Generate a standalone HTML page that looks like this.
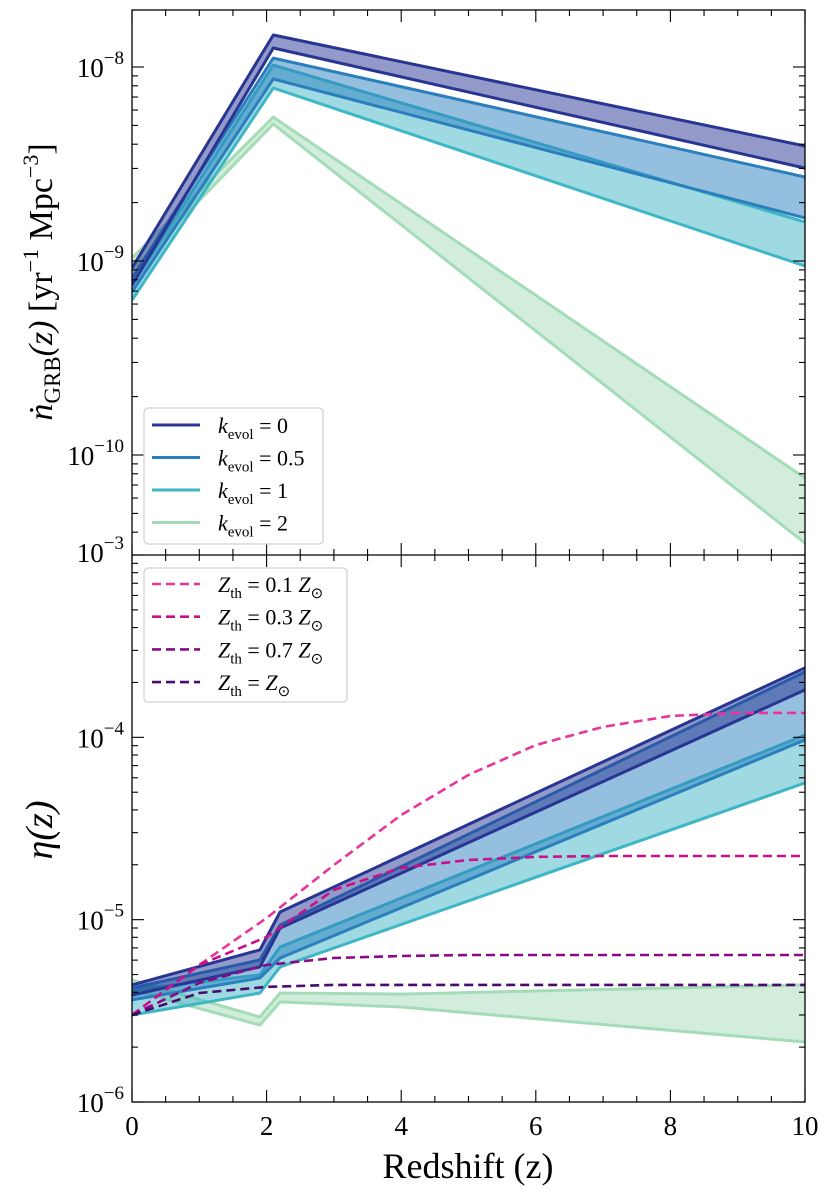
<!DOCTYPE html>
<html><head><meta charset="utf-8"><style>
body{margin:0;background:#fff}
svg{display:block;font-family:"Liberation Serif",serif}
</style></head><body>
<svg id="chart" width="830" height="1200" viewBox="0 0 830 1200" xmlns="http://www.w3.org/2000/svg">
<g id="top"></g>
<g id="bot"></g>
<g id="axes"></g>
<text transform="translate(52,282) rotate(-90)" text-anchor="middle" font-size="34" font-style="italic">ṅ<tspan font-style="normal" font-size="23" dy="8">GRB</tspan><tspan dy="-8">(z)</tspan><tspan font-style="normal"> [yr</tspan><tspan font-style="normal" font-size="22" dy="-14">−1</tspan><tspan font-style="normal" dy="14"> Mpc</tspan><tspan font-style="normal" font-size="22" dy="-14">−3</tspan><tspan font-style="normal" dy="14">]</tspan></text>
<text transform="translate(52,830) rotate(-90)" text-anchor="middle" font-size="38" font-style="italic">η(z)</text>
<text x="468" y="1178" text-anchor="middle" font-size="36">Redshift (z)</text>
<g>
<rect x="144" y="408" width="179" height="136" rx="4" fill="#fff" fill-opacity="0.85" stroke="#d0d0d0" stroke-width="1.2"/>
</g>
<g id="leg1"></g>
<g>
<rect x="144" y="568" width="203" height="134" rx="4" fill="#fff" fill-opacity="0.85" stroke="#d0d0d0" stroke-width="1.2"/>
</g>
<g id="leg2"></g>
</svg>
<script>
// ---- data (log10 values) ----
const zTopBand = [0, 2.1, 10];
const topK0Up = [-9.036, -7.835, -8.407];
const topK0Lo = [-9.124, -7.902, -8.521];
const topK05Up = [-9.088, -7.954, -8.567];
const topK05Lo = [-9.160, -8.062, -8.778];
const topK1Up = [-9.124, -7.990, -8.799];
const topK1Lo = [-9.201, -8.108, -9.026];
const topK2Up = [-8.985, -8.258, -10.119];
const topK2Lo = [-9.046, -8.294, -10.454];

const zBotBand = [0, 1.9, 2.2, 10];
const botK0Up = [-5.358, -5.166, -4.958, -3.619];
const botK0Lo = [-5.413, -5.259, -5.046, -3.740];
const botK05Up = [-5.375, -5.221, -5.029, -3.641];
const botK05Lo = [-5.440, -5.320, -5.210, -4.014];
const botK1Up = [-5.386, -5.303, -5.150, -3.987];
const botK1Lo = [-5.523, -5.402, -5.259, -4.250];
const zBotK2 = [0, 1.9, 2.2, 4, 10];
const botK2Up = [-5.331, -5.534, -5.402, -5.408, -5.358];
const botK2Lo = [-5.386, -5.578, -5.451, -5.479, -5.671];

const zDash = [0, 1, 2, 3, 4, 5, 6, 7, 8, 9, 10];
const zth01 = [-5.523, -5.248, -4.991, -4.700, -4.426, -4.206, -4.042, -3.943, -3.883, -3.866, -3.866];
const zth03 = [-5.523, -5.248, -5.095, -4.837, -4.716, -4.673, -4.656, -4.651, -4.651, -4.651, -4.651];
const zth07 = [-5.523, -5.347, -5.248, -5.210, -5.199, -5.194, -5.194, -5.194, -5.194, -5.194, -5.194];
const zth10 = [-5.523, -5.402, -5.369, -5.358, -5.358, -5.358, -5.358, -5.358, -5.358, -5.358, -5.358];

const xTicks = [0, 2, 4, 6, 8, 10];
const topYTicks = [-8, -9, -10];
const botYTicks = [-4, -5, -6];
const kLabels = ['0', '0.5', '1', '2'];
const zthLabels = ['0.1 ', '0.3 ', '0.7 ', ''];

// ---- scales ----
const X0 = 132, X1 = 805;
const TOP0 = 10, MID = 555, BOT1 = 1102;
const x = z => X0 + (z / 10) * (X1 - X0);
const yTop = l => 67 + (-8 - l) * 194;
const yBot = l => BOT1 - (l + 6) * ((BOT1 - MID) / 3);

const NS = 'http://www.w3.org/2000/svg';
function mk(tag, parent, attrs) { const e = document.createElementNS(NS, tag); for (const k in attrs) e.setAttribute(k, attrs[k]); parent.appendChild(e); return e; }
function pts(zs, ls, ys) { return zs.map((z, i) => x(z).toFixed(1) + ',' + ys(ls[i]).toFixed(1)); }

const colors = ['#283593', '#2b7fbd', '#3fb6c6', '#a5dcb8'];
const dashColors = ['#e7359b', '#c8108a', '#8a0a86', '#4a0a6e'];

function band(g, zs, up, lo, ys, col, name) {
  const d = 'M' + pts(zs, up, ys).join('L') + 'L' + pts(zs, lo, ys).reverse().join('L') + 'Z';
  const f = mk('path', g, { d: d, fill: col, 'fill-opacity': 0.5 });
  
  
  [up, lo].forEach((arr, j) => {
    const l = mk('polyline', g, { points: pts(zs, arr, ys).join(' '), fill: 'none', stroke: col, 'stroke-width': 3, 'stroke-linejoin': 'round' });
    
    
  });
}
const topG = document.getElementById('top'), botG = document.getElementById('bot');
const cpTop = mk('clipPath', topG, { id: 'cpt' }); mk('rect', cpTop, { x: X0, y: TOP0, width: X1 - X0, height: MID - TOP0 });
const cpBot = mk('clipPath', botG, { id: 'cpb' }); mk('rect', cpBot, { x: X0, y: MID, width: X1 - X0, height: BOT1 - MID });
const tg = mk('g', topG, { 'clip-path': 'url(#cpt)' });
const bg = mk('g', botG, { 'clip-path': 'url(#cpb)' });
band(tg, zTopBand, topK2Up, topK2Lo, yTop, colors[3], 'top-band-k2');
band(tg, zTopBand, topK1Up, topK1Lo, yTop, colors[2], 'top-band-k1');
band(tg, zTopBand, topK05Up, topK05Lo, yTop, colors[1], 'top-band-k05');
band(tg, zTopBand, topK0Up, topK0Lo, yTop, colors[0], 'top-band-k0');
band(bg, zBotK2, botK2Up, botK2Lo, yBot, colors[3], 'bottom-band-k2');
band(bg, zBotBand, botK1Up, botK1Lo, yBot, colors[2], 'bottom-band-k1');
band(bg, zBotBand, botK05Up, botK05Lo, yBot, colors[1], 'bottom-band-k05');
band(bg, zBotBand, botK0Up, botK0Lo, yBot, colors[0], 'bottom-band-k0');
[zth01, zth03, zth07, zth10].forEach((arr, i) => {
  const l = mk('polyline', bg, { points: pts(zDash, arr, yBot).join(' '), fill: 'none', stroke: dashColors[i], 'stroke-width': 2.6, 'stroke-dasharray': '9,5' });
  
  
});

// ---- axes ----
const ax = document.getElementById('axes');
mk('rect', ax, { x: X0, y: TOP0, width: X1 - X0, height: BOT1 - TOP0, fill: 'none', stroke: '#000', 'stroke-width': 1.3 });
mk('line', ax, { x1: X0, x2: X1, y1: MID, y2: MID, stroke: '#000', 'stroke-width': 1.3 });
function tk(x1, y1, x2, y2) { mk('line', ax, { x1: x1, y1: y1, x2: x2, y2: y2, stroke: '#000', 'stroke-width': 1.1 }); }
for (let z = 0; z <= 10.001; z += 0.5) {
  const major = Math.abs(z / 2 - Math.round(z / 2)) < 1e-6;
  const L = major ? 12 : 6;
  const px = x(z);
  [TOP0, MID].forEach(yy => tk(px, yy, px, yy + L));
  [MID, BOT1].forEach(yy => tk(px, yy, px, yy - L));
}
function logTicks(lo, hi, ys, yMin, yMax) {
  for (let d = Math.floor(lo); d <= hi; d++) {
    for (let m = 1; m <= 9; m++) {
      const l = d + Math.log10(m); const yy = ys(l);
      if (yy < yMin - 0.5 || yy > yMax + 0.5) continue;
      const L = m === 1 ? 12 : 6;
      tk(X0, yy, X0 + L, yy); tk(X1, yy, X1 - L, yy);
    }
  }
}
logTicks(-11, -7, yTop, TOP0, MID);
logTicks(-6, -3, yBot, MID, BOT1);
xTicks.forEach(v => {
  const t = mk('text', ax, { x: x(v), y: 1135, 'text-anchor': 'middle', 'font-size': 27 });
  t.textContent = v;
  
  
});
function ylab(l, yy) {
  const t = mk('text', ax, { x: 124, y: yy + 10, 'text-anchor': 'end', 'font-size': 27 });
  t.innerHTML = '10<tspan font-size="19" dy="-13">−' + (-l) + '</tspan>';
  
  
}
topYTicks.forEach(l => ylab(l, yTop(l)));
botYTicks.forEach(l => ylab(l, yBot(l)));
ylab(-3, yBot(-3) - 3);

// ---- legends ----
const l1 = document.getElementById('leg1');
kLabels.forEach((k, i) => {
  const yy = 425 + i * 32.5;
  mk('line', l1, { x1: 152, x2: 200, y1: yy, y2: yy, stroke: colors[i], 'stroke-width': 3 });
  const t = mk('text', l1, { x: 218, y: yy + 8, 'font-size': 22 });
  t.innerHTML = '<tspan font-style="italic">k</tspan><tspan font-size="15" dy="6">evol</tspan><tspan dy="-6"> = ' + k + '</tspan>';
  
  
});
const l2 = document.getElementById('leg2');
zthLabels.forEach((k, i) => {
  const yy = 584 + i * 32.7;
  mk('line', l2, { x1: 152, x2: 200, y1: yy, y2: yy, stroke: dashColors[i], 'stroke-width': 2.6, 'stroke-dasharray': '9,5' });
  const t = mk('text', l2, { x: 218, y: yy + 8, 'font-size': 22 });
  t.innerHTML = '<tspan font-style="italic">Z</tspan><tspan font-size="15" dy="6">th</tspan><tspan dy="-6"> = ' + k + '</tspan><tspan font-style="italic">Z</tspan><tspan font-size="15" dy="6">⊙</tspan>';
  
  
});
</script>
</body></html>
